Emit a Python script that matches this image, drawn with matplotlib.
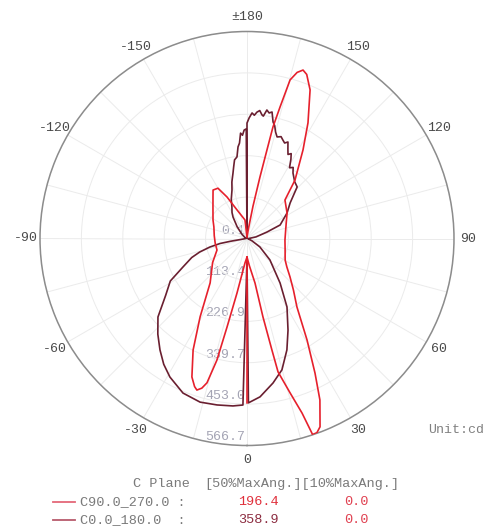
#!/usr/bin/env python3
"""
Polar luminous intensity diagram (C90/270 and C0/180 planes)
"""

import numpy as np
import matplotlib
matplotlib.use("Agg")
import matplotlib.pyplot as plt
from matplotlib.lines import Line2D
from matplotlib.transforms import offset_copy

# ---- data (cd), angles in degrees: right half 0..180, left half -180..0 ----
c90_right_deg = [0, 0, 5, 10.2, 11.5, 12.6, 13.1, 15.6, 17.5, 18.5, 19.8, 21.2, 24.3, 26.8,
                 30.6, 36.1, 42, 48.2, 54.5, 60.5, 75, 87.7, 105, 122.5, 135.4, 140.6,
                 147.7, 152.2, 157, 160, 161.6, 163.2, 164.8, 165.9, 166.9, 167.3,
                 168.1, 169.5, 172, 180]
c90_right_cd = [450, 51, 75, 124, 219, 313, 375, 439, 501, 566, 565, 553, 485, 413,
                323, 232, 190, 158, 134, 120, 108, 104, 110, 130, 148, 207,
                287, 358, 442, 478, 486, 475, 450, 371, 313, 248,
                172, 90, 25, 3]
c90_left_deg = [-180, -173.8, -160.7, -154.3, -150, -145, -140.7, -132.8, -118.6,
                -109.2, -95, -82, -69, -55, -39.7, -30.9, -25.8, -21.7, -19.5, -18.3,
                -16.8, -15.5, -13.9, -12.7, -10.4, -4.7, 0]
c90_left_cd = [3, 51, 83, 126, 159, 162, 147, 127, 106,
               96, 90, 88, 88, 115, 158, 250, 339, 408, 430, 437,
               428, 410, 343, 248, 152, 67, 51]

c0_right_deg = [0, 0.5, 4.7, 10.2, 14.9, 19.7, 24.1, 30.3, 36.6, 46.9, 56.8, 65, 80,
                95, 100, 108, 112.2, 122.5, 129.5, 135.8, 140, 144.9, 147, 149, 151,
                152.5, 154, 155.5, 157, 158.5, 160, 161.5, 163.5, 165, 166.2, 167.4,
                168.8, 170, 171.2, 172.4, 173.1, 174.3, 175.5, 176.6, 177.7, 179,
                180, 180]
c0_right_cd = [53, 450, 435, 402, 372, 324, 275, 217, 152, 86, 42, 15, 3,
               8, 25, 58, 98, 130, 153, 197, 203, 219, 232, 226, 248,
               262, 256, 270, 287, 281, 287, 294, 290, 302, 318, 327,
               353, 349, 356, 338, 341, 352, 347, 338, 344, 330,
               316, 0]
c0_left_deg = [-179.6, -178.5, -177.5, -176.5, -175.5, -174.4, -173, -171, -169.5,
               -167.9, -165, -162.8, -158, -154.5, -150, -146.9, -140, -130, -115,
               -100, -88, -82, -80.5, -79.5, -77, -74, -71, -66, -61, -55, -48.6,
               -43, -38, -33.5, -29.1, -22.5, -16, -10.2, -4.8, -1.4, 0]
c0_left_cd = [300, 297, 283, 289, 262, 252, 225, 218, 200,
              183, 160, 139, 115, 96, 82, 70, 42, 18, 6,
              3, 4, 10, 45, 75, 105, 135, 160, 192, 240, 272, 325,
              358, 387, 413, 434, 458, 466, 463, 460, 456, 53]

ring_values = [113.34, 226.68, 340.02, 453.36, 566.7]
ring_labels = ["0.1", "113.4", "226.9", "339.7", "453.0", "566.7"]
angle_ticks = [0, 30, 60, 90, 120, 150, 180, -150, -120, -90, -60, -30]
angle_labels = ["0", "30", "60", "90", "120", "150", "\u00b1180",
                "-150", "-120", "-90", "-60", "-30"]

plane_names = ["C90.0_270.0 :", "C0.0_180.0  :"]
half_max_ang = ["196.4", "358.9"]
tenth_max_ang = ["0.0", "0.0"]

RED = "#e6202c"
DARK = "#6a1f30"
FONT = "Liberation Mono"
W, H = 485, 529


def to_theta(right_deg, left_deg):
    """Join both halves into one continuous angle run (0..360)"""
    left = [360 + d for d in left_deg]
    return np.radians(np.concatenate([right_deg, left]))


def px(x, y):
    """Pixel position -> figure fraction"""
    return x / W, 1 - y / H


def main():
    fig = plt.figure(figsize=(W / 100, H / 100), dpi=100)
    R = 207
    ax = fig.add_axes([(247 - R) / W, (H - 238.5 - R) / H, 2 * R / W, 2 * R / H],
                      projection="polar")
    ax.set_theta_zero_location("S")
    ax.set_theta_direction(1)
    ax.set_ylim(0, 566.7)

    ax.set_xticks(np.radians(np.arange(0, 360, 15)))
    ax.set_xticklabels([])
    ax.set_yticks(ring_values)
    ax.set_yticklabels([])
    ax.grid(True, color="#ebebeb", linewidth=0.7)
    ax.spines["polar"].set_color("#8c8c8c")
    ax.spines["polar"].set_linewidth(1.1)

    # angle labels
    for a, lab in zip(angle_ticks, angle_labels):
        ax.text(np.radians(a % 360), 566.7 * 1.07, lab, ha="center", va="center",
                fontsize=9.5, family=FONT, color="#4a4a4a", clip_on=False)

    # ring labels along the 0 direction
    trans = offset_copy(ax.transData, fig=fig, x=-2, y=2, units="dots")
    for r, lab in zip([0] + ring_values, ring_labels):
        ax.text(0, r, lab, transform=trans, ha="right", va="bottom",
                fontsize=9.5, family=FONT, color="#a4a4b4", zorder=1)

    # curves
    th0 = to_theta(c0_right_deg, c0_left_deg)
    ax.plot(th0, np.concatenate([c0_right_cd, c0_left_cd]), color=DARK,
            linewidth=1.2, zorder=3)
    th90 = to_theta(c90_right_deg, c90_left_deg)
    ax.plot(th90, np.concatenate([c90_right_cd, c90_left_cd]), color=RED,
            linewidth=1.2, zorder=4)

    fig.text(*px(428, 430), "Unit:cd", ha="left", va="center",
             fontsize=9.5, family=FONT, color="#808080")

    # legend block
    fig.text(*px(133, 484), "C Plane", ha="left", va="center",
             fontsize=9.7, family=FONT, color="#7a7a7a")
    fig.text(*px(204, 484), "[50%MaxAng.][10%MaxAng.]", ha="left", va="center",
             fontsize=9.7, family=FONT, color="#7a7a7a")
    line_colors = ["#e46878", "#b85a6c"]
    value_colors = ["#e0303c", "#8c2c40"]
    for i, y in enumerate([502, 520]):
        x0, y0 = px(53, y)
        x1, _ = px(75, y)
        fig.add_artist(Line2D([x0, x1], [y0, y0], color=line_colors[i], linewidth=1.3))
        fig.text(*px(80, y), plane_names[i], ha="left", va="center",
                 fontsize=9.7, family=FONT, color="#7a7a7a")
        fig.text(*px(258, y), half_max_ang[i], ha="center", va="center",
                 fontsize=9.7, family=FONT, color=value_colors[i])
        fig.text(*px(356, y), tenth_max_ang[i], ha="center", va="center",
                 fontsize=9.7, family=FONT, color="#e04050")

    fig.savefig("out.png", dpi=100)


if __name__ == "__main__":
    main()
